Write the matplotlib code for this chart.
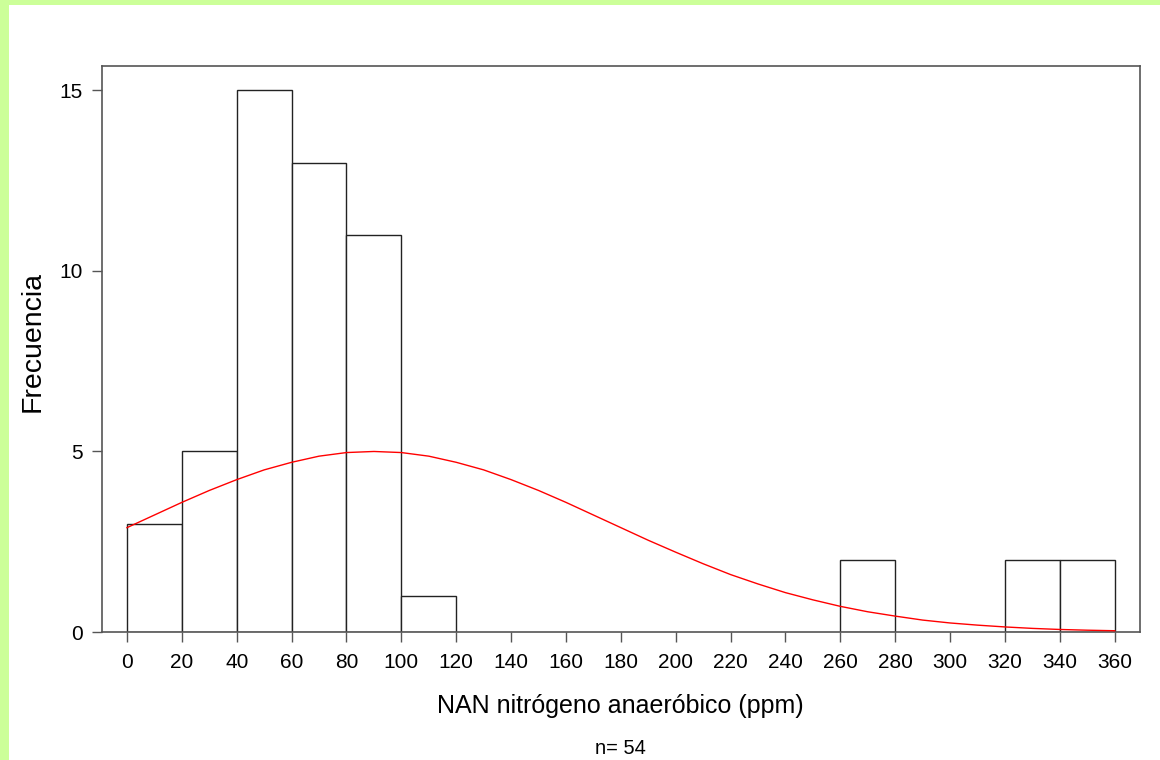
import matplotlib.pyplot as plt
from matplotlib.patches import Rectangle

plt.rcParams['font.family'] = ['Liberation Sans', 'DejaVu Sans']

# histogram bins (left edge, count) - bins with zero count are left out
bin_left = [0, 20, 40, 60, 80, 100, 260, 320, 340]
counts = [3, 5, 15, 13, 11, 1, 2, 2, 2]
bin_width = 20

# fitted normal curve, sampled every 10 ppm
curve_x = [0, 10, 20, 30, 40, 50, 60, 70, 80, 90, 100, 110, 120, 130, 140,
           150, 160, 170, 180, 190, 200, 210, 220, 230, 240, 250, 260, 270,
           280, 290, 300, 310, 320, 330, 340, 350, 360]
curve_y = [2.89, 3.24, 3.59, 3.92, 4.22, 4.49, 4.70, 4.87, 4.97, 5.00, 4.97,
           4.87, 4.70, 4.49, 4.22, 3.92, 3.59, 3.24, 2.89, 2.54, 2.21, 1.89,
           1.59, 1.33, 1.09, 0.89, 0.71, 0.56, 0.44, 0.33, 0.25, 0.19, 0.14,
           0.10, 0.07, 0.05, 0.035]

xticks = list(range(0, 361, 20))
yticks = [0, 5, 10, 15]

fig = plt.figure(figsize=(11.6, 7.6), dpi=100, facecolor='white')

# light green frame strips
green = '#ccff99'
fig.patches.append(Rectangle((0, 1 - 5 / 760), 1, 5 / 760, transform=fig.transFigure,
                             facecolor=green, edgecolor='none', zorder=0))
fig.patches.append(Rectangle((0, 0), 9 / 1160, 1, transform=fig.transFigure,
                             facecolor=green, edgecolor='none', zorder=0))

ax = fig.add_axes([102 / 1160, 1 - 632 / 760, (1140 - 102) / 1160, (632 - 65.5) / 760])

ax.bar(bin_left, counts, width=bin_width, align='edge', facecolor='white',
       edgecolor='#222222', linewidth=1.0, zorder=2)
ax.plot(curve_x, curve_y, color='#ff0000', linewidth=1.0, zorder=3)

ax.set_xlim(-9.1, 369.2)
ax.set_ylim(0, 15.69)
ax.set_xticks(xticks)
ax.set_yticks(yticks)
ax.tick_params(axis='both', labelsize=15, length=7, width=1.0, color='#555555')
ax.tick_params(axis='x', pad=8)
ax.tick_params(axis='y', pad=7)
for s in ax.spines.values():
    s.set_color('#555555')
    s.set_linewidth(1.2)

fig.text(33 / 1160, 1 - 341 / 760, 'Frecuencia', rotation=90, fontsize=20.5,
         ha='center', va='center')
fig.text(620 / 1160, 1 - 706 / 760, 'NAN nitrógeno anaeróbico (ppm)', fontsize=18,
         ha='center', va='center')
fig.text(620 / 1160, 1 - 748 / 760, 'n= 54', fontsize=14.5, ha='center', va='center')

fig.savefig('out.png', dpi=100, facecolor=fig.get_facecolor())
